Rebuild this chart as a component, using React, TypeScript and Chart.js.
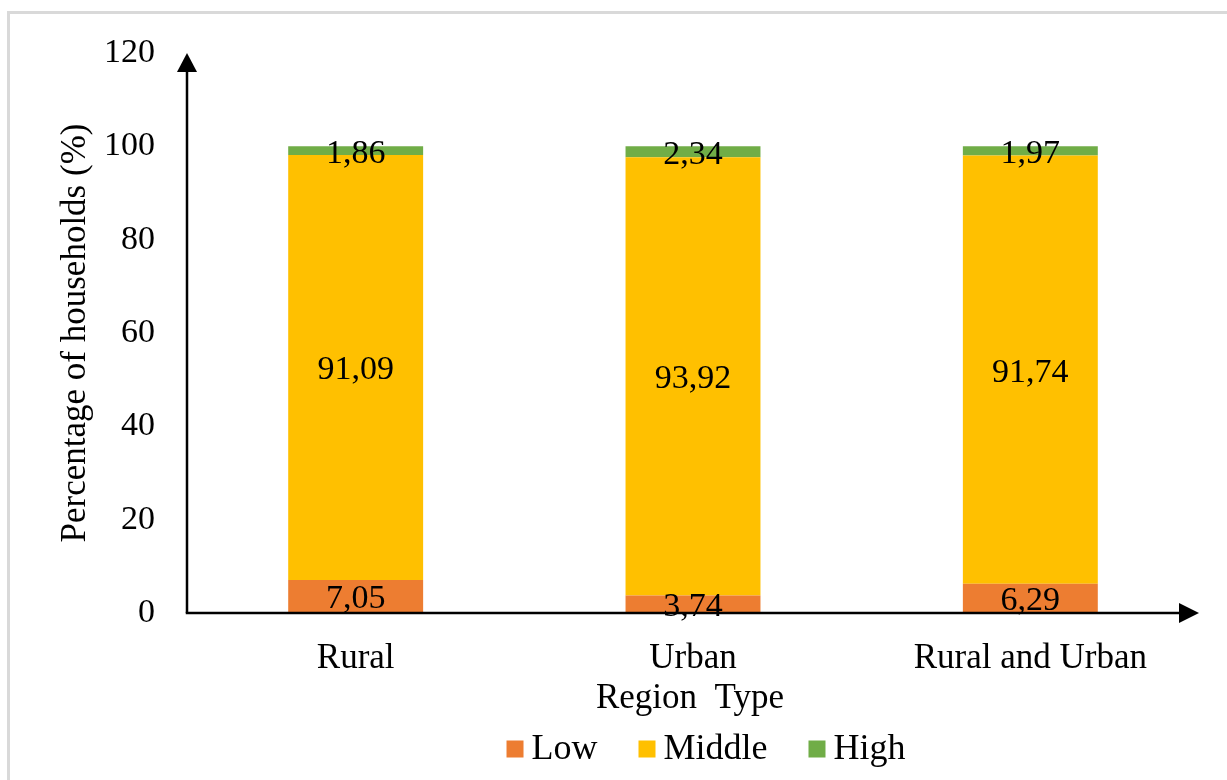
import React, { useEffect, useRef } from "react";
import { Chart, registerables } from "chart.js";

Chart.register(...registerables);

const categories = ["Rural", "Urban", "Rural and Urban"];
const lowValues = [7.05, 3.74, 6.29];
const middleValues = [91.09, 93.92, 91.74];
const highValues = [1.86, 2.34, 1.97];
const seriesNames = ["Low", "Middle", "High"];
const seriesColors = ["#ED7D31", "#FFC000", "#70AD47"];
const yMin = 0;
const yMax = 120;
const yStep = 20;
const xTitle = "Region  Type";
const yTitle = "Percentage of households (%)";

const FONT = '"Liberation Serif", "Times New Roman", serif';

const fmt = (v: number) => v.toFixed(2).replace(".", ",");

const decorPlugin = {
  id: "decor",
  beforeDraw(chart: any) {
    const ctx = chart.ctx;
    ctx.save();
    ctx.fillStyle = "#ffffff";
    ctx.fillRect(0, 0, chart.width, chart.height);
    ctx.strokeStyle = "#d9d9d9";
    ctx.lineWidth = 3;
    ctx.beginPath();
    ctx.moveTo(8.5, chart.height);
    ctx.lineTo(8.5, 12.5);
    ctx.lineTo(chart.width, 12.5);
    ctx.stroke();
    ctx.restore();
  },
  afterDatasetsDraw(chart: any) {
    const ctx = chart.ctx;
    ctx.save();
    ctx.fillStyle = "#000";
    ctx.font = `34px ${FONT}`;
    ctx.textAlign = "center";
    ctx.textBaseline = "middle";
    chart.data.datasets.forEach((ds: any, di: number) => {
      const meta = chart.getDatasetMeta(di);
      meta.data.forEach((bar: any, i: number) => {
        const cy = (bar.y + bar.base) / 2;
        ctx.fillText(fmt(ds.data[i]), bar.x, cy + 3);
      });
    });
    ctx.restore();
  },
  afterDraw(chart: any) {
    const ctx = chart.ctx;
    const a = chart.chartArea;
    ctx.save();
    ctx.strokeStyle = "#000";
    ctx.fillStyle = "#000";
    ctx.lineWidth = 2.5;
    // y axis
    ctx.beginPath();
    ctx.moveTo(a.left, a.bottom);
    ctx.lineTo(a.left, a.top + 10);
    ctx.stroke();
    ctx.beginPath();
    ctx.moveTo(a.left, a.top);
    ctx.lineTo(a.left - 10, a.top + 19);
    ctx.lineTo(a.left + 10, a.top + 19);
    ctx.closePath();
    ctx.fill();
    // x axis
    ctx.beginPath();
    ctx.moveTo(a.left - 1.25, a.bottom);
    ctx.lineTo(a.right - 10, a.bottom);
    ctx.stroke();
    ctx.beginPath();
    ctx.moveTo(a.right, a.bottom);
    ctx.lineTo(a.right - 20, a.bottom - 10);
    ctx.lineTo(a.right - 20, a.bottom + 10);
    ctx.closePath();
    ctx.fill();

    // titles
    ctx.font = `35px ${FONT}`;
    ctx.textAlign = "center";
    ctx.textBaseline = "middle";
    ctx.fillText(xTitle, (a.left + a.right) / 2 - 3, 699);
    ctx.save();
    ctx.translate(76, (a.top + a.bottom) / 2);
    ctx.rotate(-Math.PI / 2);
    ctx.fillText(yTitle, 0, 0);
    ctx.restore();

    // legend
    ctx.font = `36px ${FONT}`;
    const box = 17;
    const gap = 8;
    const spacing = 41;
    const widths = chart.data.datasets.map((d: any) => ctx.measureText(d.label).width);
    const total =
      widths.reduce((s: number, w: number) => s + w + box + gap, 0) +
      spacing * (widths.length - 1);
    let x = 706 - total / 2;
    const ly = 749;
    ctx.textAlign = "left";
    chart.data.datasets.forEach((d: any, i: number) => {
      ctx.fillStyle = d.backgroundColor;
      ctx.fillRect(x, ly - box / 2, box, box);
      ctx.fillStyle = "#000";
      ctx.fillText(d.label, x + box + gap, ly + 1);
      x += box + gap + widths[i] + spacing;
    });
    ctx.restore();
  },
};

export default function App() {
  const ref = useRef<HTMLCanvasElement | null>(null);
  useEffect(() => {
    if (!ref.current) return;
    const seriesValues = [lowValues, middleValues, highValues];
    const chart = new Chart(ref.current, {
      type: "bar",
      data: {
        labels: categories,
        datasets: seriesNames.map((name, i) => ({
          label: name,
          data: seriesValues[i],
          backgroundColor: seriesColors[i],
          borderWidth: 0,
          barPercentage: 0.4,
          categoryPercentage: 1,
        })),
      },
      options: {
        responsive: false,
        animation: false,
        layout: { padding: { top: 53, right: 28, left: 0, bottom: 0 } },
        plugins: {
          legend: { display: false },
          tooltip: { enabled: false },
        },
        scales: {
          x: {
            stacked: true,
            grid: { display: false, drawTicks: false },
            border: { display: false },
            ticks: {
              color: "#000",
              font: { family: FONT, size: 35 },
              padding: 25,
              maxRotation: 0,
              autoSkip: false,
            },
            afterFit: (s: any) => {
              s.height = 780 - 613;
            },
          },
          y: {
            stacked: true,
            min: yMin,
            max: yMax,
            grid: { display: false, drawTicks: false },
            border: { display: false },
            ticks: {
              stepSize: yStep,
              color: "#000",
              font: { family: FONT, size: 34 },
              padding: 32,
            },
            afterFit: (s: any) => {
              s.width = 187;
            },
          },
        },
      },
      plugins: [decorPlugin],
    });
    return () => chart.destroy();
  }, []);
  return (
    <div style={{ position: "absolute", left: 0, top: 0, width: 1227, height: 780, background: "#fff" }}>
      <canvas ref={ref} width={1227} height={780} style={{ display: "block", width: 1227, height: 780 }} />
    </div>
  );
}
